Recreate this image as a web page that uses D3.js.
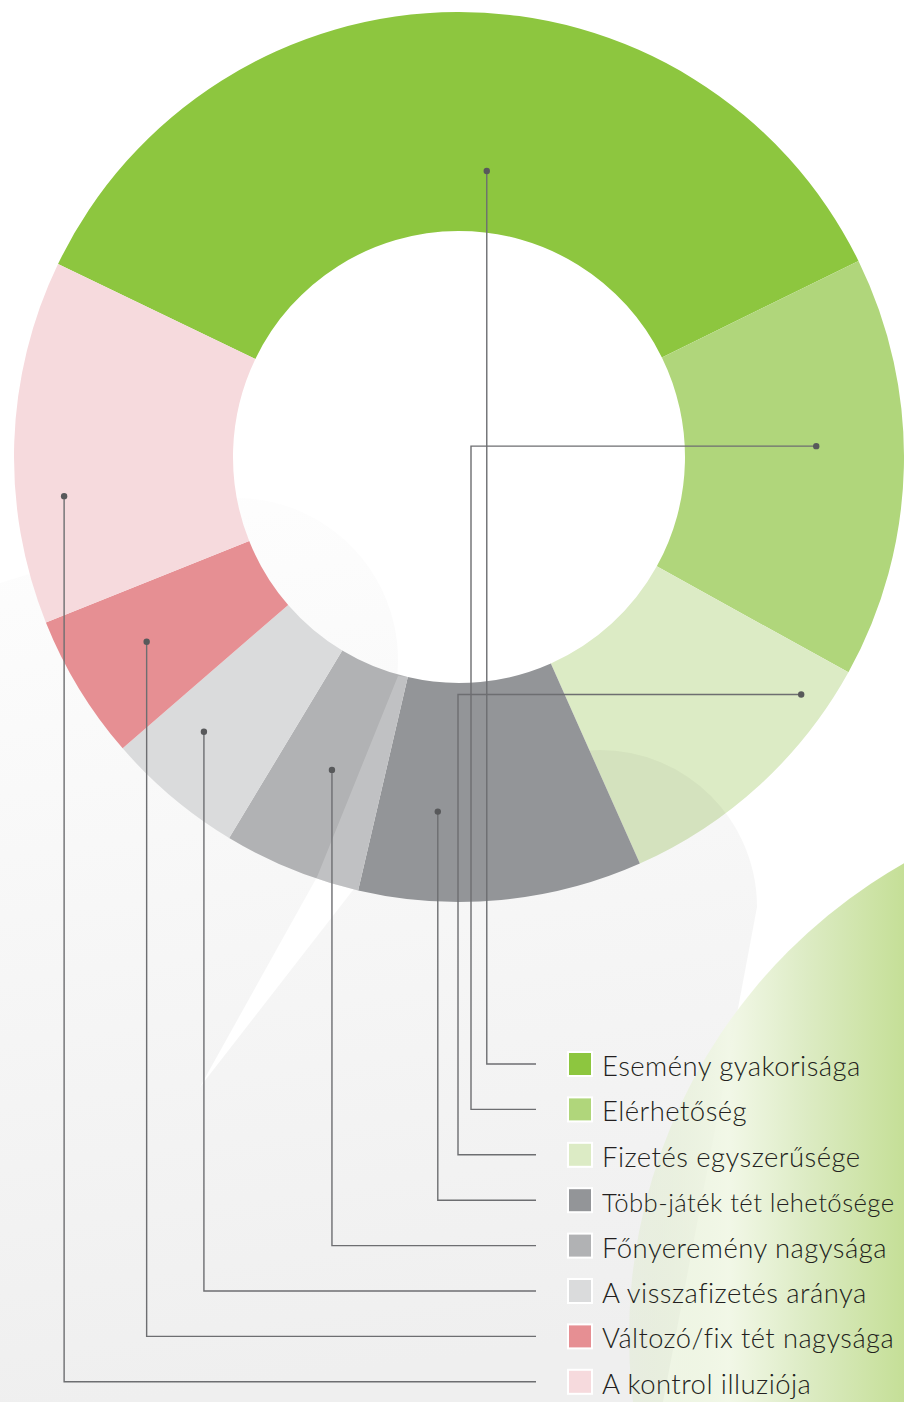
<!DOCTYPE html>
<html>
<head>
<meta charset="utf-8">
<script src="https://cdn.jsdelivr.net/npm/d3@7"></script>
<style>
  html, body { margin: 0; padding: 0; background: #fff; }
  svg { display: block; }
  .legendText { font-family: 'Lato Light', Lato, 'Open Sans', sans-serif; font-weight: 300; letter-spacing: 0.45px; }
</style>
</head>
<body>
<div id="chart"></div>
<script>
// Chart data (share of each factor, read from the ring).
const categories = [
    'Esemény gyakorisága',
    'Elérhetőség',
    'Fizetés egyszerűsége',
    'Több-játék tét lehetősége',
    'Főnyeremény nagysága',
    'A visszafizetés aránya',
    'Változó/fix tét nagysága',
    'A kontrol illuziója'
];
const values = [35.6, 15.3, 10.3, 10.3, 5.0, 5.0, 5.3, 13.2];
const colors = ['#8dc63f', '#b0d67b', '#dcebc5', '#939598',
    '#b1b2b4', '#dadbdc', '#e68f93', '#f6dadd'];

// Layout.
const width = 904, height = 1402;
const cx = 459, cy = 457;
const outerR = 445, innerR = 226;
const startDeg = -64.3;
const legendTop = 1064, legendStep = 45.4;
const lineEndX = 536, boxX = 569, boxSize = 22, textX = 602, textMax = 292;
const fontSize = 27.5;
// Where each leader line starts inside its slice:
// t = position along the slice angle, rr = position across the ring.
const anchors = [
    {t: 0.545, rr: 0.28, bendX: null},
    {t: 0.443, rr: 0.60, bendX: 471},
    {t: 0.157, rr: 0.87, bendX: 458},
    {t: 0.739, rr: 0.59, bendX: null},
    {t: 0.50, rr: 0.51, bendX: null},
    {t: 0.654, rr: 0.68, bendX: null},
    {t: 0.54, rr: 0.625, bendX: null},
    {t: 0.34, rr: 0.78, bendX: null}
];

const svg = d3.select('#chart').append('svg')
    .attr('width', width)
    .attr('height', height);
const defs = svg.append('defs');
const rad = Math.PI / 180;

// Background gradients.
const grayGrad = defs.append('linearGradient')
    .attr('id', 'grayGrad')
    .attr('gradientUnits', 'userSpaceOnUse')
    .attr('x1', 0).attr('y1', 480).attr('x2', 120).attr('y2', 1402);
grayGrad.append('stop').attr('offset', 0).attr('stop-color', '#fefefe');
grayGrad.append('stop').attr('offset', 1).attr('stop-color', '#efefef');

const greenGrad = defs.append('linearGradient')
    .attr('id', 'greenGrad')
    .attr('gradientUnits', 'userSpaceOnUse')
    .attr('x1', 630).attr('y1', 0).attr('x2', 904).attr('y2', 0);
greenGrad.append('stop').attr('offset', 0)
    .attr('stop-color', '#dbe9c6').attr('stop-opacity', 0.35);
greenGrad.append('stop').attr('offset', 0.36)
    .attr('stop-color', '#f1f7e6').attr('stop-opacity', 0.95);
greenGrad.append('stop').attr('offset', 0.65)
    .attr('stop-color', '#dcebc3').attr('stop-opacity', 1);
greenGrad.append('stop').attr('offset', 1)
    .attr('stop-color', '#c5df97').attr('stop-opacity', 1);

svg.append('rect')
    .attr('width', width)
    .attr('height', height)
    .attr('fill', '#ffffff');

// Speech-bubble shaped gray backdrop.
const bg = d3.path();
bg.moveTo(0, 583);
bg.lineTo(120, 546);
bg.arc(236, 660, 162, -135.5 * rad, 5 * rad, false);
bg.lineTo(317, 877);
bg.lineTo(200, 1087);
bg.lineTo(353, 890);
bg.lineTo(420, 800);
bg.arc(600, 907, 157, -100 * rad, 0, false);
bg.lineTo(727, 1067);
bg.lineTo(663, 1402);
bg.lineTo(0, 1402);
bg.closePath();
svg.append('path')
    .attr('d', bg.toString())
    .attr('fill', 'url(#grayGrad)');

// Green circle in the lower right corner.
svg.append('circle')
    .attr('cx', 1173)
    .attr('cy', 1336)
    .attr('r', 544)
    .attr('fill', 'url(#greenGrad)');

// Donut.
const pie = d3.pie()
    .sort(null)
    .startAngle(startDeg * rad)
    .endAngle((startDeg + 360) * rad);
const arc = d3.arc()
    .innerRadius(innerR)
    .outerRadius(outerR);
const arcs = pie(values);
const ring = svg.append('g')
    .attr('transform', 'translate(' + cx + ',' + cy + ')');
ring.selectAll('path')
    .data(arcs)
    .enter()
    .append('path')
    .attr('d', arc)
    .attr('fill', function (d, i) {return colors[i];});

// Faint overlays of the backdrop on top of the ring.
defs.append('clipPath')
    .attr('id', 'payClip')
    .append('path')
    .attr('transform', 'translate(' + cx + ',' + cy + ')')
    .attr('d', arc(arcs[2]));
defs.append('clipPath')
    .attr('id', 'jackpotClip')
    .append('path')
    .attr('transform', 'translate(' + cx + ',' + cy + ')')
    .attr('d', arc(arcs[4]));
svg.append('circle')
    .attr('clip-path', 'url(#payClip)')
    .attr('cx', 600).attr('cy', 907).attr('r', 157)
    .attr('fill', '#000').attr('opacity', 0.035);
svg.append('path')
    .attr('clip-path', 'url(#jackpotClip)')
    .attr('d', 'M200,1087L317,877L398,676L409,677L360,891L353,890Z')
    .attr('fill', '#fff').attr('opacity', 0.2);

// Leader lines from each slice to its legend row.
const rowY = function (i) {return legendTop + i * legendStep;};
const anchorPoint = function (d, i) {
    const a = anchors[i];
    const ang = d.startAngle + a.t * (d.endAngle - d.startAngle);
    const r = innerR + a.rr * (outerR - innerR);
    return [cx + r * Math.sin(ang), cy - r * Math.cos(ang)];
};
const leaders = svg.append('g');
leaders.selectAll('path')
    .data(arcs)
    .enter()
    .append('path')
    .attr('d', function (d, i) {
        const p = anchorPoint(d, i);
        const bend = anchors[i].bendX;
        let s = 'M' + p[0] + ',' + p[1];
        if (bend !== null) s += 'H' + bend;
        s += 'V' + rowY(i) + 'H' + lineEndX;
        return s;
    })
    .attr('fill', 'none')
    .attr('stroke', '#6d6e71')
    .attr('stroke-width', 1.4);
leaders.selectAll('circle')
    .data(arcs)
    .enter()
    .append('circle')
    .attr('cx', function (d, i) {return anchorPoint(d, i)[0];})
    .attr('cy', function (d, i) {return anchorPoint(d, i)[1];})
    .attr('r', 3.2)
    .attr('fill', '#58595b');

// Legend.
const legend = svg.append('g');
const rows = legend.selectAll('g')
    .data(categories)
    .enter()
    .append('g')
    .attr('transform', function (d, i) {return 'translate(0,' + rowY(i) + ')';});
rows.append('rect')
    .attr('x', boxX - 2)
    .attr('y', -boxSize / 2 - 2)
    .attr('width', boxSize + 4)
    .attr('height', boxSize + 4)
    .attr('fill', '#ffffff');
rows.append('rect')
    .attr('x', boxX)
    .attr('y', -boxSize / 2)
    .attr('width', boxSize)
    .attr('height', boxSize)
    .attr('fill', function (d, i) {return colors[i];});
rows.append('text')
    .attr('class', 'legendText')
    .attr('x', textX)
    .attr('y', 12)
    .attr('font-size', fontSize + 'px')
    .attr('fill', '#231f20')
    .text(function (d) {return d;})
    .each(function () {
        // Shrink a label that would run past the page edge.
        const len = this.getComputedTextLength();
        if (len > textMax) {
            d3.select(this).attr('font-size', (fontSize * textMax / len) + 'px');
        }
    });
</script>
</body>
</html>
